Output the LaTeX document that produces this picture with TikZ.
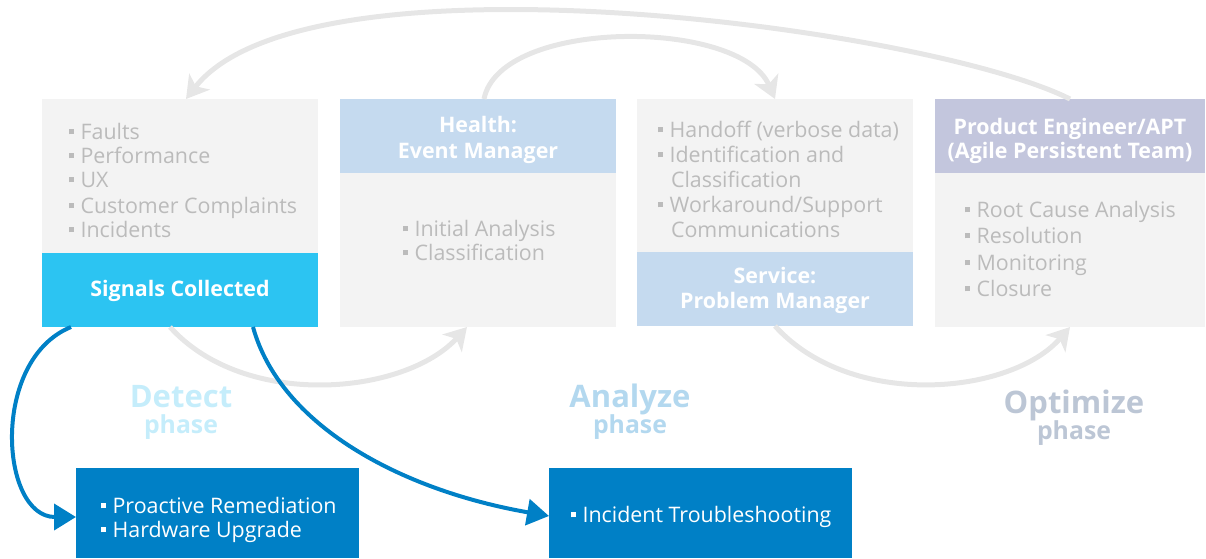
\documentclass[tikz,border=0pt]{standalone}
\usepackage{fontspec}
\setmainfont{Open Sans}
\usetikzlibrary{arrows.meta}
\definecolor{boxgray}{HTML}{F3F3F3}
\definecolor{txtgray}{HTML}{BBBBBB}
\definecolor{headblue}{HTML}{C5DAEF}
\definecolor{cyanband}{HTML}{2CC4F2}
\definecolor{headpurple}{HTML}{C3C6DD}
\definecolor{flowblue}{HTML}{0080C6}
\definecolor{arrowgray}{HTML}{E6E6E6}
\definecolor{detectc}{HTML}{C5EDFB}
\definecolor{analyzec}{HTML}{B3D8EF}
\definecolor{optimizec}{HTML}{BCC6D5}
\newcommand{\sqbul}{\rule[2.3pt]{2.5pt}{2.5pt}\hspace{3.3pt}}
\tikzset{
  every node/.style={inner sep=0pt, outer sep=0pt},
  panel/.style={anchor=north west, draw=none},
  item/.style={anchor=base west, text=txtgray, font=\fontsize{10.7}{12}\selectfont},
  witem/.style={anchor=base west, text=white, font=\fontsize{10.7}{12}\selectfont},
  head/.style={anchor=base, text=white, font=\bfseries\fontsize{10.7}{12}\selectfont},
  phasebig/.style={anchor=base, font=\bfseries\fontsize{15.5}{16}\selectfont},
  phasesmall/.style={anchor=base, font=\bfseries\fontsize{12.4}{13}\selectfont},
  loop/.style={draw=arrowgray, line width=2.5pt, -{Stealth[length=11pt,width=13pt,inset=3pt]}},
  flow/.style={draw=flowblue, line width=2pt, -{Triangle[length=11pt,width=13pt]}},
}
\begin{document}
\begin{tikzpicture}[x=0.5pt,y=-0.5pt]
\useasboundingbox (0,0) rectangle (1206,558);
% panels
\node[panel, fill=boxgray, minimum width=138pt, minimum height=77pt] (b1body) at (42,99) {};
\node[panel, fill=cyanband, minimum width=138pt, minimum height=37pt] (b1band) at (42,253) {};
\node[panel, fill=headblue, minimum width=138pt, minimum height=37pt] (b2head) at (340,99) {};
\node[panel, fill=boxgray, minimum width=138pt, minimum height=77pt] (b2body) at (340,173) {};
\node[panel, fill=boxgray, minimum width=138pt, minimum height=76.5pt] (b3body) at (637,99) {};
\node[panel, fill=headblue, minimum width=138pt, minimum height=37pt] (b3band) at (637,252) {};
\node[panel, fill=headpurple, minimum width=135pt, minimum height=37pt] (b4head) at (935,99) {};
\node[panel, fill=boxgray, minimum width=135pt, minimum height=77pt] (b4body) at (935,173) {};
\node[panel, fill=flowblue, minimum width=141.5pt, minimum height=45pt] (actA) at (76,468) {};
\node[panel, fill=flowblue, minimum width=151.5pt, minimum height=45pt] (actB) at (549,468) {};
% box 1 text
\node[item] (t11) at (69,139) {\sqbul Faults};
\node[item] (t12) at (69,163) {\sqbul Performance};
\node[item] (t13) at (69,187) {\sqbul UX};
\node[item] (t14) at (69,213) {\sqbul Customer Complaints};
\node[item] (t15) at (69,237) {\sqbul Incidents};
\node[head] (h1) at (180,296) {Signals Collected};
% box 2 text
\node[head] (h21) at (478,132) {Health:};
\node[head] (h22) at (478,158) {Event Manager};
\node[item] (t21) at (403,236) {\sqbul Initial Analysis};
\node[item] (t22) at (403,260) {\sqbul Classification};
% box 3 text
\node[item] (t31) at (658,137) {\sqbul Handoff (verbose data)};
\node[item] (t32) at (658,162) {\sqbul Identification and};
\node[item] (t33) at (671,187) {Classification};
\node[item] (t34) at (658,212) {\sqbul Workaround/Support};
\node[item] (t35) at (671,237) {Communications};
\node[head] (h31) at (775,283) {Service:};
\node[head] (h32) at (775,308) {Problem Manager};
% box 4 text
\node[head] (h41) at (1070,134) {Product Engineer/APT};
\node[head] (h42) at (1070,158) {(Agile Persistent Team)};
\node[item] (t41) at (965,217) {\sqbul Root Cause Analysis};
\node[item] (t42) at (965,243) {\sqbul Resolution};
\node[item] (t43) at (965,270) {\sqbul Monitoring};
\node[item] (t44) at (965,296) {\sqbul Closure};
% phases
\node[phasebig, text=detectc] (pd1) at (181,407) {Detect};
\node[phasesmall, text=detectc] (pd2) at (181,433) {phase};
\node[phasebig, text=analyzec] (pa1) at (630,407) {Analyze};
\node[phasesmall, text=analyzec] (pa2) at (630,433) {phase};
\node[phasebig, text=optimizec] (po1) at (1074,413) {Optimize};
\node[phasesmall, text=optimizec] (po2) at (1074,439) {phase};
% actions
\node[witem] (ta1) at (101,513) {\sqbul Proactive Remediation};
\node[witem] (ta2) at (101,537) {\sqbul Hardware Upgrade};
\node[witem] (tb1) at (571,522) {\sqbul Incident Troubleshooting};
% gray loop arrows
\draw[loop] (b4head.north) .. controls (929,28) and (306,-55) .. ([xshift=3pt]b1body.north);
\draw[loop] ([xshift=3pt]b2head.north) .. controls (500,18) and (740,18) .. (b3body.north);
\draw[loop] ([xshift=-5pt]b1band.south) .. controls (245,410) and (405,395) .. ([xshift=-5.5pt]b2body.south);
\draw[loop] (b3band.south) .. controls (851,410) and (1011,395) .. (b4body.south);
% blue flow arrows
\draw[flow] ([xshift=14.5pt]b1band.south west) .. controls (-10,360) and (0,517) .. ([yshift=-2pt]actA.west);
\draw[flow] ([xshift=36.5pt]b1band.south) .. controls (280,425) and (400,490) .. ([yshift=-1.5pt]actB.west);
\end{tikzpicture}
\end{document}
